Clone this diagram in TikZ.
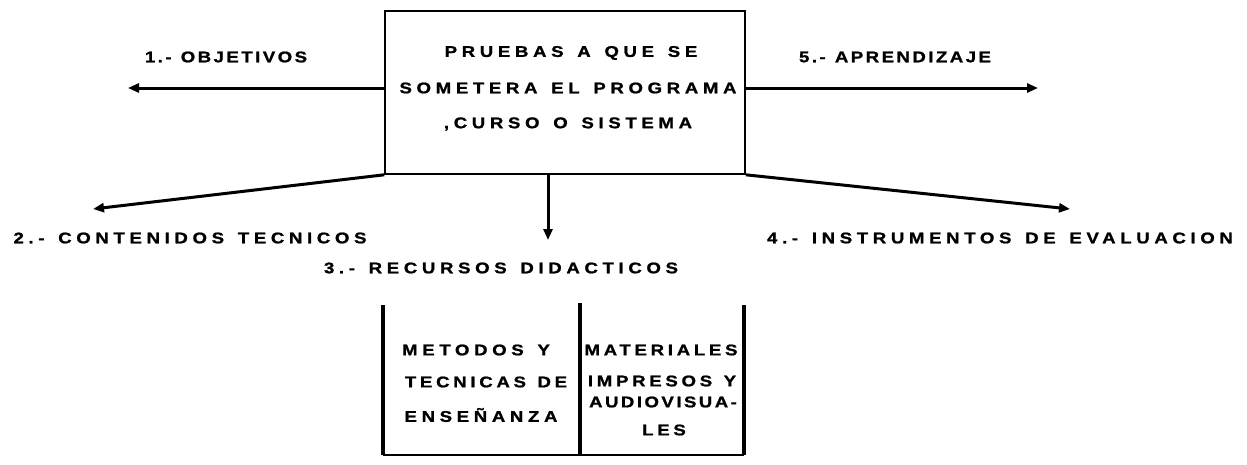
\documentclass[tikz,border=0pt]{standalone}
\usepackage{fontspec}
\setmainfont{Liberation Sans Bold}[LetterSpace=30,WordSpace=1.4,FakeStretch=1.2,FakeBold=1.2]
\newfontfamily\tightfont{Liberation Sans Bold}[LetterSpace=16,WordSpace=1.2,FakeStretch=1.2,FakeBold=1.2]
\newfontfamily\midfont{Liberation Sans Bold}[LetterSpace=24,WordSpace=1.3,FakeStretch=1.2,FakeBold=1.2]
\usetikzlibrary{arrows.meta}
\begin{document}
\begin{tikzpicture}[x=1pt,y=-1pt,
  lbl/.style={font=\fontsize{15.5}{18}\selectfont, inner sep=0pt, anchor=center},
  tight/.style={font=\tightfont\fontsize{15.5}{18}\selectfont},
  midsp/.style={font=\midfont\fontsize{15.5}{18}\selectfont},
  arr/.style={line width=3pt, -{Triangle[length=11pt,width=9pt]}},
  mainbox/.style={draw, line width=1.6pt, inner sep=0pt},
  bar/.style={line width=3.6pt}]
\useasboundingbox (0,0) rectangle (1247,464);
\fill[white] (0,0) rectangle (1247,464);
% main box
\node[mainbox, minimum width=360pt, minimum height=163pt] (main) at (565,92.5) {};
\node[lbl] (t1) at (571,53) {PRUEBAS A QUE SE};
\node[lbl] (t2) at (568,88) {SOMETERA EL PROGRAMA};
\node[lbl] (t3) at (568,124) {,CURSO O SISTEMA};
% arrow ends
\coordinate (e1) at (128,88);
\coordinate (e5) at (1038,88);
\coordinate (e2) at (93,209);
\coordinate (e4) at (1070,209);
\coordinate (s3) at (548,174);
\coordinate (e3) at (548,240);
\draw[arr] (main.west |- e1) -- (e1);
\draw[arr] (main.east |- e5) -- (e5);
\draw[arr] (main.south west) -- (e2);
\draw[arr] (main.south east) -- (e4);
\draw[arr] (s3) -- (e3);
% labels
\node[lbl,tight] (l1) at (226,57) {1.- OBJETIVOS};
\node[lbl,tight] (l5) at (895,57) {5.- APRENDIZAJE};
\node[lbl] (l2) at (190,238) {2.- CONTENIDOS TECNICOS};
\node[lbl] (l4) at (1000,238) {4.- INSTRUMENTOS DE EVALUACION};
\node[lbl] (l3) at (501,268) {3.- RECURSOS DIDACTICOS};
% bracket
\coordinate (ba) at (383,305);
\coordinate (bb) at (383,455);
\coordinate (bc) at (580,303);
\coordinate (bd) at (580,455);
\coordinate (be) at (744,305);
\coordinate (bf) at (744,455);
\draw[bar] (ba) -- (bb);
\draw[bar] (bc) -- (bd);
\draw[bar] (be) -- (bf);
\draw[line width=1.8pt] (bb) -- (bf);
% column texts
\node[lbl] (c1) at (476,350) {METODOS Y};
\node[lbl,midsp] (c2) at (486,382) {TECNICAS DE};
\node[lbl] (c3) at (481,415) {ENSEÑANZA};
\node[lbl,midsp] (d1) at (661,350) {MATERIALES};
\node[lbl,midsp] (d2) at (662,381) {IMPRESOS Y};
\node[lbl,tight] (d3) at (663,402) {AUDIOVISUA-};
\node[lbl,midsp] (d4) at (664,430) {LES};
\end{tikzpicture}
\end{document}
